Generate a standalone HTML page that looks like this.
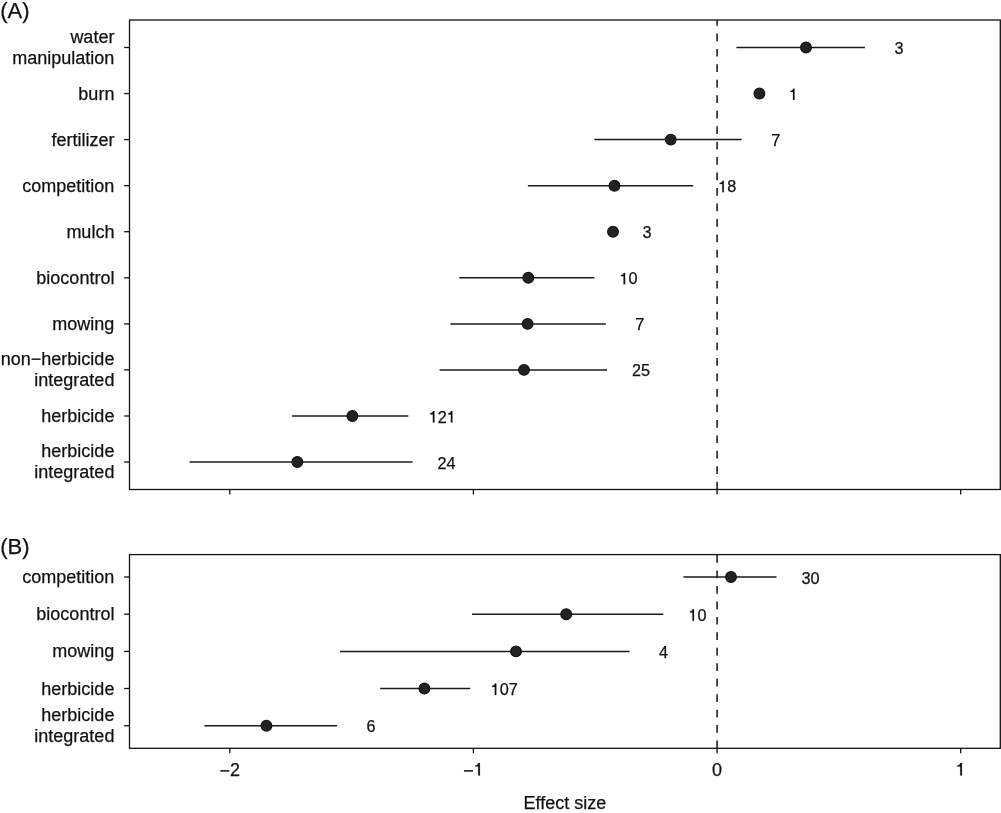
<!DOCTYPE html><html><head><meta charset="utf-8"><style>html,body{margin:0;padding:0;background:#fff;}svg{display:block;filter:grayscale(1);} text{font-family:"Liberation Sans",sans-serif;fill:#111;stroke:#111;stroke-width:0.25px;} path{stroke:#111;stroke-width:0.2px;vector-effect:non-scaling-stroke;}</style></head><body>
<svg width="1001" height="813" viewBox="0 0 1001 813">
<rect width="1001" height="813" fill="#fff"/>
<g fill="#111">
<line x1="717.1" y1="489.5" x2="717.1" y2="20.0" stroke="#111" stroke-width="1.5" stroke-dasharray="7.73 7.73"/>
<rect x="129.5" y="20.0" width="870.8" height="469.5" fill="none" stroke="#111" stroke-width="1.3"/>
<line x1="229.8" y1="489.5" x2="229.8" y2="494.5" stroke="#111" stroke-width="1.3"/>
<line x1="473.4" y1="489.5" x2="473.4" y2="494.5" stroke="#111" stroke-width="1.3"/>
<line x1="717.1" y1="489.5" x2="717.1" y2="494.5" stroke="#111" stroke-width="1.3"/>
<line x1="960.7" y1="489.5" x2="960.7" y2="494.5" stroke="#111" stroke-width="1.3"/>
<line x1="124.2" y1="47.5" x2="129.5" y2="47.5" stroke="#111" stroke-width="1.3"/>
<text x="114.4" y="42.6" font-size="18" text-anchor="end">water</text>
<text x="114.4" y="63.9" font-size="18" text-anchor="end">manipulation</text>
<line x1="124.2" y1="93.56" x2="129.5" y2="93.56" stroke="#111" stroke-width="1.3"/>
<text x="114.4" y="99.6" font-size="18" text-anchor="end">burn</text>
<line x1="124.2" y1="139.6" x2="129.5" y2="139.6" stroke="#111" stroke-width="1.3"/>
<text x="114.4" y="145.6" font-size="18" text-anchor="end">fertilizer</text>
<line x1="124.2" y1="185.7" x2="129.5" y2="185.7" stroke="#111" stroke-width="1.3"/>
<text x="114.4" y="191.7" font-size="18" text-anchor="end">competition</text>
<line x1="124.2" y1="231.7" x2="129.5" y2="231.7" stroke="#111" stroke-width="1.3"/>
<text x="114.4" y="237.7" font-size="18" text-anchor="end">mulch</text>
<line x1="124.2" y1="277.8" x2="129.5" y2="277.8" stroke="#111" stroke-width="1.3"/>
<text x="114.4" y="283.8" font-size="18" text-anchor="end">biocontrol</text>
<line x1="124.2" y1="323.9" x2="129.5" y2="323.9" stroke="#111" stroke-width="1.3"/>
<text x="114.4" y="329.9" font-size="18" text-anchor="end">mowing</text>
<line x1="124.2" y1="369.9" x2="129.5" y2="369.9" stroke="#111" stroke-width="1.3"/>
<text x="114.4" y="365.0" font-size="18" text-anchor="end">non−herbicide</text>
<text x="114.4" y="386.3" font-size="18" text-anchor="end">integrated</text>
<line x1="124.2" y1="416.0" x2="129.5" y2="416.0" stroke="#111" stroke-width="1.3"/>
<text x="114.4" y="422.0" font-size="18" text-anchor="end">herbicide</text>
<line x1="124.2" y1="462.0" x2="129.5" y2="462.0" stroke="#111" stroke-width="1.3"/>
<text x="114.4" y="457.1" font-size="18" text-anchor="end">herbicide</text>
<text x="114.4" y="478.4" font-size="18" text-anchor="end">integrated</text>
<line x1="736.4" y1="47.5" x2="864.9" y2="47.5" stroke="#1a1a1a" stroke-width="1.5"/>
<circle cx="806.0" cy="47.5" r="5.4" fill="#222" stroke="#111" stroke-width="1.1"/>
<text x="894.40" y="54.00" font-size="16.2">3</text>
<circle cx="759.4" cy="93.56" r="5.4" fill="#222" stroke="#111" stroke-width="1.1"/>
<path transform="translate(788.90,100.06) scale(0.01620,-0.01620)" d="M347 0L253 0L253 500L94 500L94 572C190 578 240 610 262 703L347 703Z"/>
<line x1="594.3" y1="139.6" x2="741.7" y2="139.6" stroke="#1a1a1a" stroke-width="1.5"/>
<circle cx="670.8" cy="139.6" r="5.4" fill="#222" stroke="#111" stroke-width="1.1"/>
<text x="771.20" y="146.10" font-size="16.2">7</text>
<line x1="527.9" y1="185.7" x2="693.2" y2="185.7" stroke="#1a1a1a" stroke-width="1.5"/>
<circle cx="614.5" cy="185.7" r="5.4" fill="#222" stroke="#111" stroke-width="1.1"/>
<path transform="translate(718.19,192.20) scale(0.01620,-0.01620)" d="M347 0L253 0L253 500L94 500L94 572C190 578 240 610 262 703L347 703Z"/>
<text x="727.20" y="192.20" font-size="16.2">8</text>
<circle cx="613.0" cy="231.7" r="5.4" fill="#222" stroke="#111" stroke-width="1.1"/>
<text x="642.50" y="238.20" font-size="16.2">3</text>
<line x1="459.3" y1="277.8" x2="594.5" y2="277.8" stroke="#1a1a1a" stroke-width="1.5"/>
<circle cx="528.3" cy="277.8" r="5.4" fill="#222" stroke="#111" stroke-width="1.1"/>
<path transform="translate(619.49,284.30) scale(0.01620,-0.01620)" d="M347 0L253 0L253 500L94 500L94 572C190 578 240 610 262 703L347 703Z"/>
<text x="628.50" y="284.30" font-size="16.2">0</text>
<line x1="450.4" y1="323.9" x2="605.8" y2="323.9" stroke="#1a1a1a" stroke-width="1.5"/>
<circle cx="527.6" cy="323.9" r="5.4" fill="#222" stroke="#111" stroke-width="1.1"/>
<text x="635.30" y="330.40" font-size="16.2">7</text>
<line x1="439.6" y1="369.9" x2="607.0" y2="369.9" stroke="#1a1a1a" stroke-width="1.5"/>
<circle cx="524.0" cy="369.9" r="5.4" fill="#222" stroke="#111" stroke-width="1.1"/>
<text x="631.99" y="376.40" font-size="16.2">2</text>
<text x="641.00" y="376.40" font-size="16.2">5</text>
<line x1="292.1" y1="416.0" x2="408.3" y2="416.0" stroke="#1a1a1a" stroke-width="1.5"/>
<circle cx="352.4" cy="416.0" r="5.4" fill="#222" stroke="#111" stroke-width="1.1"/>
<path transform="translate(428.79,422.50) scale(0.01620,-0.01620)" d="M347 0L253 0L253 500L94 500L94 572C190 578 240 610 262 703L347 703Z"/>
<text x="437.80" y="422.50" font-size="16.2">2</text>
<path transform="translate(446.80,422.50) scale(0.01620,-0.01620)" d="M347 0L253 0L253 500L94 500L94 572C190 578 240 610 262 703L347 703Z"/>
<line x1="189.6" y1="462.0" x2="412.6" y2="462.0" stroke="#1a1a1a" stroke-width="1.5"/>
<circle cx="297.3" cy="462.0" r="5.4" fill="#222" stroke="#111" stroke-width="1.1"/>
<text x="437.59" y="468.50" font-size="16.2">2</text>
<text x="446.60" y="468.50" font-size="16.2">4</text>
<text x="0.3" y="18.3" font-size="22">(A)</text>
<line x1="717.1" y1="748.3" x2="717.1" y2="554.6" stroke="#111" stroke-width="1.5" stroke-dasharray="7.73 7.73"/>
<rect x="129.5" y="554.6" width="870.8" height="193.7" fill="none" stroke="#111" stroke-width="1.3"/>
<line x1="229.8" y1="748.3" x2="229.8" y2="753.3" stroke="#111" stroke-width="1.3"/>
<line x1="473.4" y1="748.3" x2="473.4" y2="753.3" stroke="#111" stroke-width="1.3"/>
<line x1="717.1" y1="748.3" x2="717.1" y2="753.3" stroke="#111" stroke-width="1.3"/>
<line x1="960.7" y1="748.3" x2="960.7" y2="753.3" stroke="#111" stroke-width="1.3"/>
<line x1="124.2" y1="577.0" x2="129.5" y2="577.0" stroke="#111" stroke-width="1.3"/>
<text x="114.4" y="583.0" font-size="18" text-anchor="end">competition</text>
<line x1="124.2" y1="614.2" x2="129.5" y2="614.2" stroke="#111" stroke-width="1.3"/>
<text x="114.4" y="620.2" font-size="18" text-anchor="end">biocontrol</text>
<line x1="124.2" y1="651.4" x2="129.5" y2="651.4" stroke="#111" stroke-width="1.3"/>
<text x="114.4" y="657.4" font-size="18" text-anchor="end">mowing</text>
<line x1="124.2" y1="688.5" x2="129.5" y2="688.5" stroke="#111" stroke-width="1.3"/>
<text x="114.4" y="694.5" font-size="18" text-anchor="end">herbicide</text>
<line x1="124.2" y1="725.7" x2="129.5" y2="725.7" stroke="#111" stroke-width="1.3"/>
<text x="114.4" y="720.8" font-size="18" text-anchor="end">herbicide</text>
<text x="114.4" y="742.1" font-size="18" text-anchor="end">integrated</text>
<line x1="683.5" y1="577.0" x2="776.5" y2="577.0" stroke="#1a1a1a" stroke-width="1.5"/>
<circle cx="731.0" cy="577.0" r="5.4" fill="#222" stroke="#111" stroke-width="1.1"/>
<text x="801.49" y="583.50" font-size="16.2">3</text>
<text x="810.50" y="583.50" font-size="16.2">0</text>
<line x1="472.0" y1="614.2" x2="663.4" y2="614.2" stroke="#1a1a1a" stroke-width="1.5"/>
<circle cx="566.2" cy="614.2" r="5.4" fill="#222" stroke="#111" stroke-width="1.1"/>
<path transform="translate(688.39,620.70) scale(0.01620,-0.01620)" d="M347 0L253 0L253 500L94 500L94 572C190 578 240 610 262 703L347 703Z"/>
<text x="697.40" y="620.70" font-size="16.2">0</text>
<line x1="340.1" y1="651.4" x2="629.6" y2="651.4" stroke="#1a1a1a" stroke-width="1.5"/>
<circle cx="516.0" cy="651.4" r="5.4" fill="#222" stroke="#111" stroke-width="1.1"/>
<text x="659.10" y="657.90" font-size="16.2">4</text>
<line x1="380.2" y1="688.5" x2="470.2" y2="688.5" stroke="#1a1a1a" stroke-width="1.5"/>
<circle cx="424.4" cy="688.5" r="5.4" fill="#222" stroke="#111" stroke-width="1.1"/>
<path transform="translate(490.69,695.00) scale(0.01620,-0.01620)" d="M347 0L253 0L253 500L94 500L94 572C190 578 240 610 262 703L347 703Z"/>
<text x="499.70" y="695.00" font-size="16.2">0</text>
<text x="508.70" y="695.00" font-size="16.2">7</text>
<line x1="204.3" y1="725.7" x2="337.1" y2="725.7" stroke="#1a1a1a" stroke-width="1.5"/>
<circle cx="266.4" cy="725.7" r="5.4" fill="#222" stroke="#111" stroke-width="1.1"/>
<text x="366.60" y="732.20" font-size="16.2">6</text>
<text x="0.3" y="553.5" font-size="22">(B)</text>
<rect x="220.37" y="770.13" width="9.00" height="1.5"/>
<text x="230.05" y="775.60" font-size="18">2</text>
<rect x="463.97" y="770.13" width="9.00" height="1.5"/>
<path transform="translate(473.65,775.60) scale(0.01800,-0.01800)" d="M347 0L253 0L253 500L94 500L94 572C190 578 240 610 262 703L347 703Z"/>
<text x="712.10" y="775.60" font-size="18">0</text>
<path transform="translate(955.70,775.60) scale(0.01800,-0.01800)" d="M347 0L253 0L253 500L94 500L94 572C190 578 240 610 262 703L347 703Z"/>
<text x="564.9" y="808.8" font-size="18" text-anchor="middle">Effect size</text>
</g></svg></body></html>
